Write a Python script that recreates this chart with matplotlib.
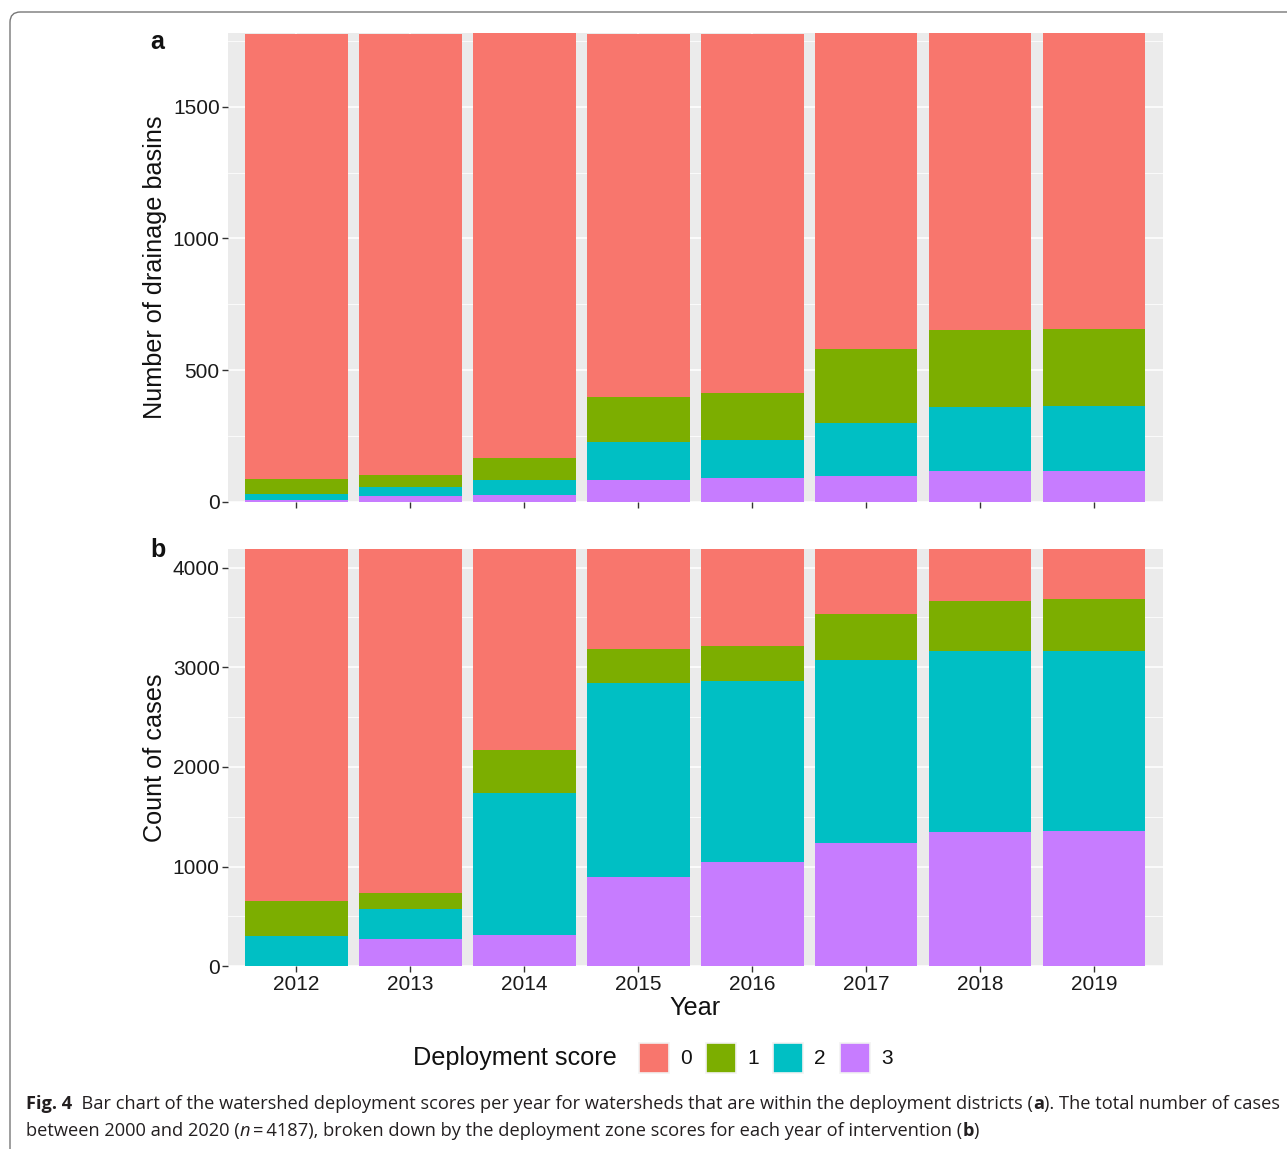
import matplotlib
matplotlib.use('Agg')
import matplotlib.pyplot as plt
from matplotlib.patches import Rectangle, FancyBboxPatch
from matplotlib import font_manager
import numpy as np

years = ['2012', '2013', '2014', '2015', '2016', '2017', '2018', '2019']
scores = ['0', '1', '2', '3']
colors = ['#F8766D', '#7CAE00', '#00BFC4', '#C77CFF']

# Panel a: number of drainage basins per deployment score
basins_score0 = [1690, 1675, 1614, 1379, 1363, 1201, 1128, 1125]
basins_score1 = [56, 45, 83, 169, 178, 281, 293, 291]
basins_score2 = [25, 33, 57, 144, 144, 200, 244, 249]
basins_score3 = [5, 23, 27, 84, 91, 99, 116, 116]

# Panel b: count of cases per deployment score
cases_score0 = [3531, 3451, 2013, 1003, 970, 649, 521, 501]
cases_score1 = [348, 161, 435, 341, 354, 461, 502, 522]
cases_score2 = [308, 301, 1425, 1947, 1813, 1840, 1813, 1806]
cases_score3 = [0, 274, 314, 896, 1050, 1237, 1351, 1358]

W, H = 1287, 1149
plt.rcParams['font.family'] = ['Liberation Sans', 'DejaVu Sans']
fig = plt.figure(figsize=(W / 100, H / 100), dpi=100)


def rect(x0, y0, x1, y1):
    return [x0 / W, 1 - y1 / H, (x1 - x0) / W, (y1 - y0) / H]


def fx(x):
    return x / W


def fy(y):
    return 1 - y / H


def draw_panel(ax, series, major, minor, show_labels):
    ax.set_facecolor('#EBEBEB')
    x = np.arange(len(years))
    bottom = np.zeros(len(years))
    # stack: score 3 at bottom, score 0 on top
    for vals, c in zip(series[::-1], colors[::-1]):
        vals = np.array(vals, dtype=float)
        ax.bar(x, vals, width=0.9, bottom=bottom, color=c, linewidth=0, zorder=3)
        bottom += vals
    ax.set_xlim(-0.6, len(years) - 0.4)
    ax.set_ylim(0, bottom.max())
    ax.set_xticks(x)
    ax.set_xticklabels(years if show_labels else [''] * len(years))
    ax.set_yticks(major)
    ax.set_yticks(minor, minor=True)
    ax.grid(which='major', color='white', lw=1.1, zorder=0)
    ax.grid(which='minor', axis='y', color='white', lw=0.55, zorder=0)
    ax.set_axisbelow(True)
    for s in ax.spines.values():
        s.set_visible(False)
    ax.tick_params(which='minor', length=0)
    ax.tick_params(which='major', length=4, width=1, color='#333333',
                   labelsize=15, labelcolor='#1a1a1a', pad=2)


axA = fig.add_axes(rect(228, 32.7, 1162.5, 501.7))
draw_panel(axA, [basins_score0, basins_score1, basins_score2, basins_score3],
           [0, 500, 1000, 1500], [250, 750, 1250, 1750], False)

axB = fig.add_axes(rect(228, 549, 1162.5, 966.3))
draw_panel(axB, [cases_score0, cases_score1, cases_score2, cases_score3],
           [0, 1000, 2000, 3000, 4000], [500, 1500, 2500, 3500], True)

# axis titles
fig.text(fx(155), fy(267), 'Number of drainage basins', rotation=90,
         ha='center', va='center', fontsize=18.2, color='#111111')
fig.text(fx(155), fy(758), 'Count of cases', rotation=90,
         ha='center', va='center', fontsize=18.2, color='#111111')
fig.text(fx(695), fy(1008), 'Year', ha='center', va='center',
         fontsize=18.2, color='#111111')

# panel letters
fig.text(fx(157), fy(42), 'a', ha='center', va='center', fontsize=18,
         fontweight='bold', color='#111111')
fig.text(fx(158), fy(550), 'b', ha='center', va='center', fontsize=18,
         fontweight='bold', color='#111111')

# legend
fig.text(fx(617), fy(1058), 'Deployment score', ha='right', va='center',
         fontsize=18.2, color='#111111')
key_x = [638.5, 705.5, 772.5, 839.5]
for kx, c, lab in zip(key_x, colors, scores):
    fig.patches.append(Rectangle((fx(kx), fy(1072.5)), 30 / W, 30 / H,
                                 transform=fig.transFigure, facecolor=c,
                                 edgecolor='#F2F2F2', lw=1.2))
    fig.text(fx(kx + 47.5), fy(1058), lab, ha='center', va='center',
             fontsize=15, color='#111111')

# frame
fig.patches.append(FancyBboxPatch((fx(10), fy(1180)), (1300 - 10) / W, (1180 - 12) / H,
                                  boxstyle='round,pad=0,rounding_size=0.008',
                                  transform=fig.transFigure, facecolor='none',
                                  edgecolor='#777777', lw=1.0, mutation_aspect=W / H))

# caption
def pick_font(names):
    for n in names:
        try:
            font_manager.findfont(n, fallback_to_default=False)
            return n
        except Exception:
            continue
    return 'DejaVu Sans'

cap_font = pick_font(['Liberation Sans Narrow', 'Open Sans', 'Noto Sans'])
renderer = fig.canvas.get_renderer()
cap_color = '#231F20'

line1 = [('Fig. 4', 'bold', 'normal'),
         ('  Bar chart of the watershed deployment scores per year for watersheds that are within the deployment districts (', 'normal', 'normal'),
         ('a', 'bold', 'normal'),
         ('). The total number of cases', 'normal', 'normal')]
line2 = [('between 2000 and 2020 (', 'normal', 'normal'),
         ('n', 'normal', 'italic'),
         ('\u2009=\u20094187), broken down by the deployment zone scores for each year of intervention (', 'normal', 'normal'),
         ('b', 'bold', 'normal'),
         (')', 'normal', 'normal')]


def seg_width(s, size, weight, style):
    # width of text including spaces: measure with guard characters
    t = fig.text(0, 0, '|' + s + '|', fontsize=size, fontweight=weight,
                 fontstyle=style, family=[cap_font, 'DejaVu Sans'])
    g = fig.text(0, 0, '||', fontsize=size, fontweight=weight,
                 fontstyle=style, family=[cap_font, 'DejaVu Sans'])
    w = t.get_window_extent(renderer).width - g.get_window_extent(renderer).width
    t.remove()
    g.remove()
    return w


def line_width(segs, size):
    return sum(seg_width(s, size, w, st) for s, w, st in segs)

base = 12.0
target = 1276 - 26
size = base * target / line_width(line1, base)
size = min(size, 14.0)


def draw_line(segs, x0, ycen, size):
    x = x0
    for s, w, st in segs:
        fig.text(fx(x), fy(ycen), s, fontsize=size, fontweight=w, fontstyle=st,
                 family=[cap_font, 'DejaVu Sans'], ha='left', va='baseline',
                 color=cap_color)
        x += seg_width(s, size, w, st)

draw_line(line1, 26, 1109, size)
draw_line(line2, 26, 1136, size)

fig.savefig('out.png', dpi=100)
